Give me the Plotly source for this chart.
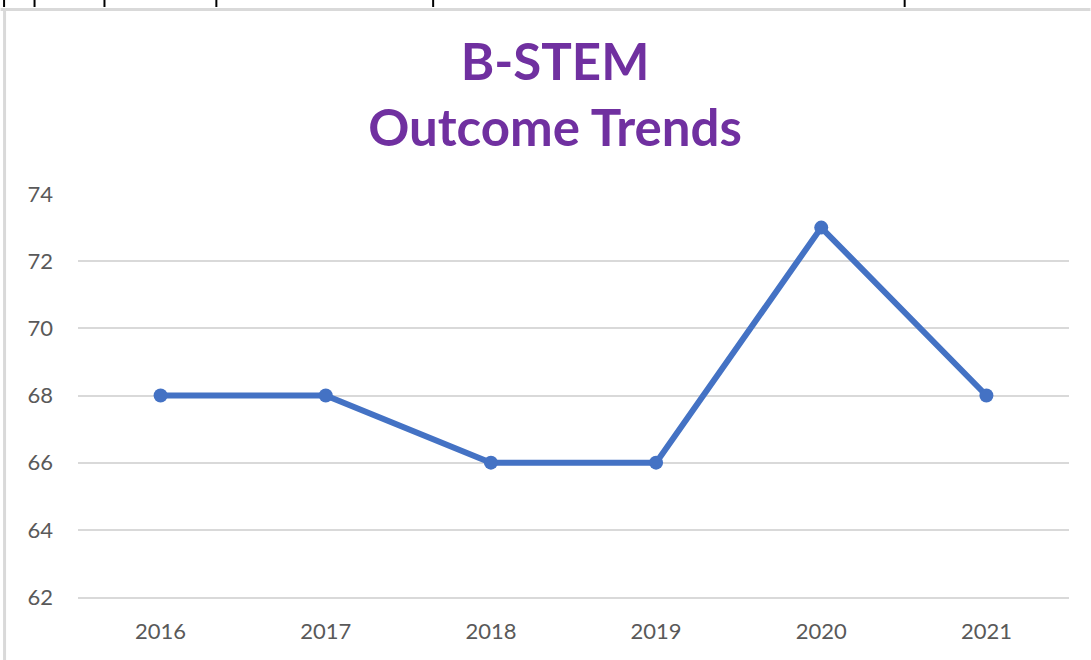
import plotly.graph_objects as go

years = ["2016", "2017", "2018", "2019", "2020", "2021"]
scores = [68, 68, 66, 66, 73, 68]
y_ticks = [62, 64, 66, 68, 70, 72, 74]

W, H = 1091, 660
L, R, T, B = 77.5, 21.5, 194, 63
pw, ph = W - L - R, H - T - B

def px(x):
    return (x - L) / pw

def py(y):
    return (H - B - y) / ph

fig = go.Figure()
fig.add_trace(go.Scatter(
    x=years, y=scores, mode="lines+markers",
    line=dict(color="#4472C4", width=6),
    marker=dict(color="#4472C4", size=14),
    showlegend=False, cliponaxis=False,
))

shapes = []
# frame borders (light gray)
shapes.append(dict(type="line", xref="paper", yref="paper", x0=px(0), x1=px(W), y0=py(9.5), y1=py(9.5),
                   line=dict(color="#D9D9D9", width=3)))
shapes.append(dict(type="line", xref="paper", yref="paper", x0=px(4), x1=px(4), y0=py(9), y1=py(H),
                   line=dict(color="#D9D9D9", width=3)))
# cell marks at top
for xm in [3.5, 34, 104, 216, 433, 905]:
    shapes.append(dict(type="line", xref="paper", yref="paper", x0=px(xm), x1=px(xm), y0=py(0), y1=py(7),
                       line=dict(color="#000000", width=2)))

fig.update_layout(
    width=W, height=H,
    margin=dict(l=L, r=R, t=T, b=B, autoexpand=False),
    paper_bgcolor="white", plot_bgcolor="white",
    title=dict(
        text="B-STEM<br>Outcome Trends",
        x=555 / W, xanchor="center",
        y=1 - 80 / H, yanchor="middle",
        font=dict(family="Lato", size=51, color="#7030A0", weight="bold"),
    ),
    xaxis=dict(
        type="category", range=[-0.5, 5.5],
        showgrid=False, zeroline=False,
        showline=True, linecolor="#D9D9D9", linewidth=2,
        ticks="", ticklabelstandoff=14,
        tickfont=dict(family="Lato", size=22, color="#595959"),
    ),
    yaxis=dict(
        range=[62, 74], tickvals=y_ticks,
        showgrid=True, gridcolor="#D9D9D9", gridwidth=2,
        zeroline=False, showline=False, ticks="",
        ticklabelstandoff=24,
        tickfont=dict(family="Lato", size=22, color="#595959"),
    ),
    shapes=shapes,
)

fig.write_html("out.html")
